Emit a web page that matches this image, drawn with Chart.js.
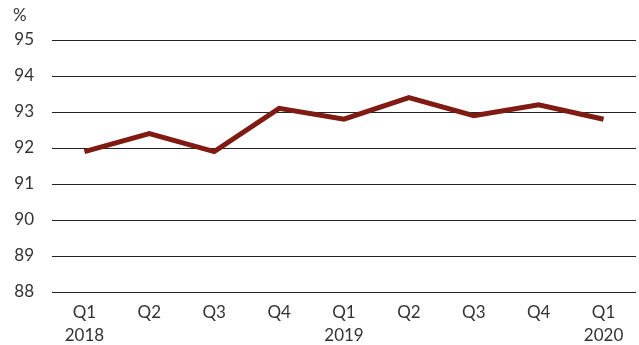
<!DOCTYPE html>
<html><head><meta charset="utf-8">
<script src="https://cdn.jsdelivr.net/npm/chart.js@4"></script>
<style>html,body{margin:0;padding:0;background:#fff;}#wrap{width:639px;height:345px;}</style>
</head><body><div id="wrap"><canvas id="c" width="639" height="345"></canvas></div>
<script>
const categories = [['Q1','2018'],'Q2','Q3','Q4',['Q1','2019'],'Q2','Q3','Q4',['Q1','2020']];
const values = [91.9, 92.4, 91.9, 93.1, 92.8, 93.4, 92.9, 93.2, 92.8];
const yTicks = [88, 89, 90, 91, 92, 93, 94, 95];
const unitLabel = '%';

const unitPlugin = {
  id: 'unit',
  afterDraw(chart) {
    const ctx = chart.ctx;
    ctx.save();
    ctx.font = '17px Lato';
    ctx.fillStyle = '#333';
    ctx.textAlign = 'left';
    ctx.textBaseline = 'middle';
    ctx.fillText(unitLabel, 13, chart.chartArea.top - 24);
    ctx.restore();
  }
};

new Chart(document.getElementById('c'), {
  type: 'line',
  data: { labels: categories, datasets: [{ data: values, borderColor: '#7f1b12', borderWidth: 5, pointRadius: 0, tension: 0, fill: false }] },
  options: {
    responsive: false, animation: false,
    layout: { padding: { top: 40, right: 3, left: 8, bottom: 0 } },
    plugins: { legend: { display: false }, tooltip: { enabled: false } },
    scales: {
      x: { offset: true, grid: { display: false }, border: { display: false },
        afterFit(s) { s.height = 53; },
        ticks: { color: '#333', font: { family: 'Lato', size: 17, lineHeight: 1.35 }, padding: 1, maxRotation: 0, autoSkip: false } },
      y: { min: 88, max: 95, afterBuildTicks(s) { s.ticks = yTicks.map(v => ({ value: v })); },
        afterFit(s) { s.width = 44; },
        grid: { color: '#222', lineWidth: 1, drawTicks: false }, border: { display: false },
        ticks: { color: '#333', font: { family: 'Lato', size: 17 }, padding: 18 } }
    }
  },
  plugins: [unitPlugin]
});
</script></body></html>
